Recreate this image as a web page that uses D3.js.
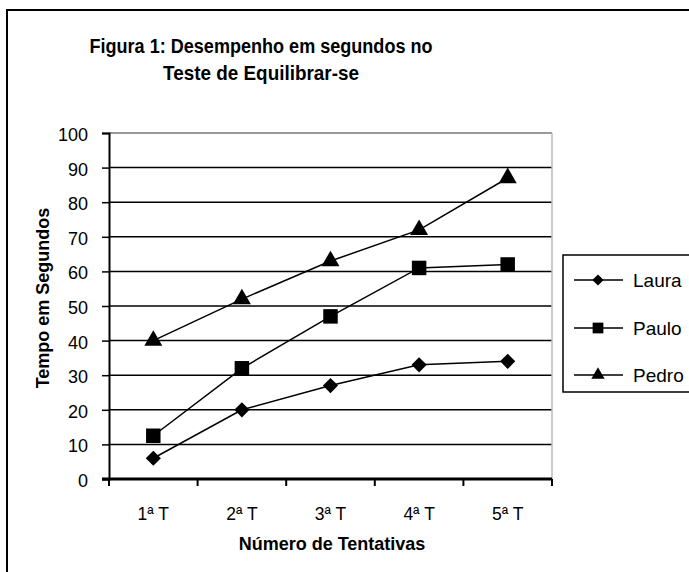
<!DOCTYPE html>
<html><head><meta charset="utf-8">
<script src="https://cdn.jsdelivr.net/npm/d3@7"></script>
<style>body{margin:0;background:#fff}svg{display:block}text{font-family:"Liberation Sans",Arial,sans-serif}</style>
</head><body><svg id="c" width="689" height="572"></svg>
<script>
const categories = ["1ª T", "2ª T", "3ª T", "4ª T", "5ª T"];
const seriesNames = ["Laura", "Paulo", "Pedro"];
const laura = [6, 20, 27, 33, 34];
const paulo = [12.5, 32, 47, 61, 62];
const pedro = [40, 52, 63, 72, 87];
const yTicks = [0, 10, 20, 30, 40, 50, 60, 70, 80, 90, 100];
const markerTypes = [d3.symbolSquare, d3.symbolSquare, d3.symbolTriangle];
const markerRot = [45, 0, 0];
const markerSizes = [115, 210, 140];

const series = seriesNames.map((n, i) => ({name: n, values: [laura, paulo, pedro][i], sym: markerTypes[i], rot: markerRot[i], size: markerSizes[i]}));

const svg = d3.select("#c");
const pLeft = 109, pRight = 552, pTop = 133, pBottom = 479;
const x = d3.scaleBand().domain(categories).range([pLeft, pRight]).padding(0);
const y = d3.scaleLinear().domain([0, 100]).range([pBottom, pTop]);
const FONT = '"Liberation Sans",Arial,sans-serif';

// outer border
svg.append("rect").attr("x", 7).attr("y", 10).attr("width", 720).attr("height", 600)
  .attr("fill", "#fff").attr("stroke", "#000").attr("stroke-width", 2);

// title
svg.append("text").attr("text-anchor", "middle").attr("font-weight", "bold").attr("font-size", 21)
  .attr("transform", "translate(261,53) scale(0.86,1)").text("Figura 1: Desempenho em segundos no");
svg.append("text").attr("text-anchor", "middle").attr("font-weight", "bold").attr("font-size", 21)
  .attr("transform", "translate(261,80) scale(0.9,1)").text("Teste de Equilibrar-se");

// gridlines
svg.append("g").selectAll("line").data(yTicks.filter(t => t > 0)).join("line")
  .attr("x1", pLeft).attr("x2", pRight).attr("y1", d => y(d)).attr("y2", d => y(d))
  .attr("stroke", d => d === 100 ? "#999" : "#000").attr("stroke-width", d => d === 100 ? 2 : 1.5);
// right plot border
svg.append("line").attr("x1", pRight).attr("x2", pRight).attr("y1", pTop).attr("y2", pBottom)
  .attr("stroke", "#bbb").attr("stroke-width", 1.5);

// y axis
const yAxis = svg.append("g").attr("transform", `translate(${pLeft},0)`)
  .call(d3.axisLeft(y).tickValues(yTicks).tickSize(7).tickPadding(14));
yAxis.select(".domain").attr("stroke", "#000").attr("stroke-width", 2);
yAxis.selectAll(".tick line").attr("stroke", "#000").attr("stroke-width", 1.5);
yAxis.selectAll(".tick text").attr("font-size", 18).attr("fill", "#000").attr("font-family", FONT).attr("dy", "0.42em");

// x axis
const xAxis = svg.append("g").attr("transform", `translate(0,${pBottom})`)
  .call(d3.axisBottom(x).tickSize(0).tickPadding(29));
xAxis.select(".domain").remove();
xAxis.selectAll(".tick text").attr("font-size", 17.5).attr("fill", "#000").attr("font-family", FONT);
svg.append("line").attr("x1", pLeft - 7).attr("x2", pRight).attr("y1", pBottom).attr("y2", pBottom)
  .attr("stroke", "#000").attr("stroke-width", 3);
const edges = categories.map(c => x(c)).concat([x.range()[1]]);
svg.append("g").selectAll("line").data(edges).join("line")
  .attr("x1", d => d).attr("x2", d => d).attr("y1", pBottom).attr("y2", pBottom + 7)
  .attr("stroke", "#000").attr("stroke-width", 2);

// axis titles
svg.append("text").attr("x", 332).attr("y", 550).attr("text-anchor", "middle")
  .attr("font-weight", "bold").attr("font-size", 18).text("Número de Tentativas");
svg.append("text").attr("transform", `translate(49,298) rotate(-90)`)
  .attr("text-anchor", "middle").attr("font-weight", "bold").attr("font-size", 18).text("Tempo em Segundos");

// lines + markers
const cx = c => x(c) + x.bandwidth() / 2;
const line = d3.line().x((d, i) => cx(categories[i])).y(d => y(d));
series.forEach(s => {
  svg.append("path").datum(s.values).attr("d", line).attr("fill", "none")
    .attr("stroke", "#000").attr("stroke-width", 1.5);
  svg.append("g").selectAll("path").data(s.values).join("path")
    .attr("transform", (d, i) => `translate(${cx(categories[i])},${y(d)}) rotate(${s.rot})`)
    .attr("d", d3.symbol(s.sym, s.size)).attr("fill", "#000");
});

// legend
svg.append("rect").attr("x", 563).attr("y", 255).attr("width", 160).attr("height", 137)
  .attr("fill", "#fff").attr("stroke", "#000").attr("stroke-width", 1.5);
const ly = [280, 328, 375];
series.forEach((s, i) => {
  svg.append("line").attr("x1", 574).attr("x2", 623).attr("y1", ly[i]).attr("y2", ly[i])
    .attr("stroke", "#000").attr("stroke-width", 1.5);
  svg.append("path").attr("transform", `translate(598,${ly[i]}) rotate(${s.rot})`)
    .attr("d", d3.symbol(s.sym, s.size * 0.55)).attr("fill", "#000");
  svg.append("text").attr("x", 633).attr("y", ly[i] + 7).attr("font-size", 19).text(s.name);
});
</script></body></html>
